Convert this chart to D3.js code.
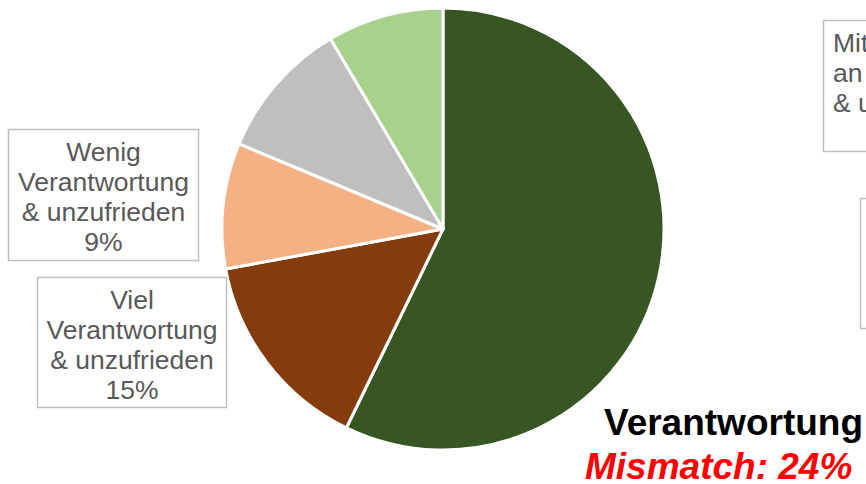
<!DOCTYPE html>
<html>
<head>
<meta charset="utf-8">
<script src="https://cdn.jsdelivr.net/npm/d3@7"></script>
<style>
  body { margin: 0; background: #fff; overflow: hidden; }
  svg { display: block; font-family: "Liberation Sans", Arial, sans-serif; }
</style>
</head>
<body>
<script>
// slices, clockwise from 12 o'clock (shares)
var categories = ["Viel Verantwortung & zufrieden", "Viel Verantwortung & unzufrieden",
  "Wenig Verantwortung & unzufrieden", "Mittlere Verantwortung & unzufrieden", "Wenig Verantwortung & zufrieden"];
var values = [57.2, 14.9, 9.2, 10.2, 8.5];
var colors = ["#375623", "#843C0C", "#F4B183", "#BFBFBF", "#A9D18E"];

// data label boxes (text lines)
var labelLines = [
  ["Wenig", "Verantwortung", "& unzufrieden", "9%"],
  ["Viel", "Verantwortung", "& unzufrieden", "15%"],
  ["Mittlere", "an Verantwortung", "& unzufrieden"],
  []
];
var titleLines = ["Verantwortung", "Mismatch: 24%"];

var svgWidth = 866;
var svgHeight = 484;

var svg = d3.select("body")
  .append("svg")
  .attr("width", svgWidth)
  .attr("height", svgHeight);

var cx = 443, cy = 229, radius = 221;

var pie = d3.pie().sort(null).value(d => d);
var arc = d3.arc().innerRadius(0).outerRadius(radius);

var pieGroup = svg.append("g")
  .attr("transform", `translate(${cx}, ${cy})`);

pieGroup.selectAll("path")
  .data(pie(values))
  .enter()
  .append("path")
  .attr("d", arc)
  .attr("fill", (d, i) => colors[i])
  .attr("stroke", "#fff")
  .attr("stroke-width", 3)
  .attr("stroke-linejoin", "round");

// label boxes
var boxes = [
  {x: 8, y: 129, w: 190, h: 131, anchor: "middle"},
  {x: 37, y: 277, w: 189, h: 130, anchor: "middle"},
  {x: 823, y: 20, w: 190, h: 131, anchor: "start"},
  {x: 860, y: 198, w: 190, h: 130, anchor: "start"}
];

var lineH = 30;

boxes.forEach(function(b, i) {
  var g = svg.append("g");
  g.append("rect")
    .attr("x", b.x + 0.5)
    .attr("y", b.y + 0.5)
    .attr("width", b.w)
    .attr("height", b.h)
    .attr("fill", "#fff")
    .attr("stroke", "#BFBFBF")
    .attr("stroke-width", 1.5);

  var tx = b.anchor == "middle" ? b.x + b.w / 2 + 0.5 : b.x + 10;
  g.selectAll("text")
    .data(labelLines[i])
    .enter()
    .append("text")
    .attr("x", tx)
    .attr("y", (d, j) => b.y + 32 + j * lineH)
    .attr("text-anchor", b.anchor)
    .attr("font-size", "26.5px")
    .attr("fill", "#595959")
    .text(d => d);
});

svg.append("text")
  .attr("x", 604)
  .attr("y", 435)
  .attr("font-size", "37px")
  .attr("font-weight", "bold")
  .attr("fill", "#000")
  .text(titleLines[0]);

svg.append("text")
  .attr("x", 585)
  .attr("y", 479)
  .attr("font-size", "37px")
  .attr("font-weight", "bold")
  .attr("font-style", "italic")
  .attr("fill", "#FF0000")
  .text(titleLines[1]);
</script>
</body>
</html>
